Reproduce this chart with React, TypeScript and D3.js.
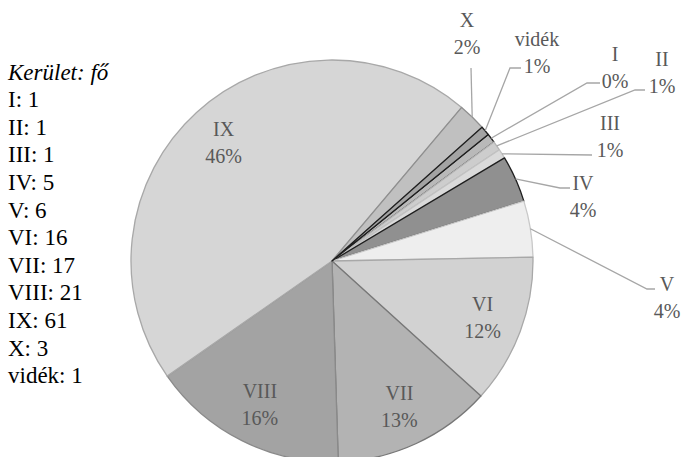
import React from "react";
import * as d3 from "d3";

const categories = ["I", "II", "III", "IV", "V", "VI", "VII", "VIII", "IX", "X", "vidék"];
const values = [1, 1, 1, 5, 6, 16, 17, 21, 61, 3, 1];
const legendTitle = "Kerület: fő";

const fills = ["#b9b9b9", "#cdcdcd", "#dadada", "#909090", "#eeeeee", "#d2d2d2", "#b3b3b3", "#a3a3a3", "#d6d6d6", "#c0c0c0", "#a3a3a3"];
const strokes = ["#1e1e1e", "#b5b5b5", "#c2c2c2", "#1e1e1e", "#c8c8c8", "#a8a8a8", "#777777", "#8a8a8a", "#a8a8a8", "#8f8f8f", "#1e1e1e"];

// outside label layout: text center, elbow point, end of horizontal segment
const outside: Record<string, { tx: number; ty: number; ex: number; ey: number; hx: number }> = {
  X: { tx: 467, ty: 33, ex: 471, ey: 68, hx: 471 },
  "vidék": { tx: 537, ty: 52, ex: 510, ey: 68, hx: 521 },
  I: { tx: 615, ty: 67, ex: 587, ey: 83, hx: 600 },
  II: { tx: 662, ty: 72, ex: 635, ey: 90, hx: 645 },
  III: { tx: 610, ty: 136, ex: 592, ey: 155, hx: 592 },
  IV: { tx: 583, ty: 196, ex: 560, ey: 188, hx: 570 },
  V: { tx: 667, ty: 297, ex: 647, ey: 289, hx: 655 },
};

const W = 681;
const H = 457;
const cx = 332;
const cy = 261;
const R = 201;
const FONT = "'Liberation Serif', 'Times New Roman', serif";

// largest-remainder rounding so percentages sum to 100 (as the spreadsheet does)
function roundedPercents(vals: number[]): number[] {
  const total = d3.sum(vals);
  const raw = vals.map((v) => (v / total) * 100);
  const fl = raw.map((r) => Math.floor(r));
  let rest = 100 - d3.sum(fl);
  const order = raw
    .map((r, i) => ({ i, rem: r - Math.floor(r) }))
    .sort((a, b) => b.rem - a.rem || b.i - a.i);
  const out = fl.slice();
  for (const o of order) {
    if (rest <= 0) break;
    out[o.i] += 1;
    rest -= 1;
  }
  return out;
}

export default function App() {
  const start = (51 * Math.PI) / 180;
  const pie = d3
    .pie<number>()
    .sort(null)
    .value((d) => d)
    .startAngle(start)
    .endAngle(start + 2 * Math.PI);
  const arcs = pie(values);
  const arc = d3.arc<d3.PieArcDatum<number>>().innerRadius(0).outerRadius(R);
  const labelArc = d3.arc<d3.PieArcDatum<number>>().innerRadius(R * 0.8).outerRadius(R * 0.8);
  const pcts = roundedPercents(values);
  const lineGap = 13.5;

  return (
    <svg width={W} height={H} style={{ position: "absolute", left: 0, top: 0 }} xmlns="http://www.w3.org/2000/svg">
      <rect width={W} height={H} fill="#ffffff" />
      <g transform={`translate(${cx},${cy})`}>
        {arcs.map((a, i) => (
          <path key={categories[i]} d={arc(a) || ""} fill={fills[i]} stroke={strokes[i]} strokeWidth={1.3} strokeLinejoin="round" />
        ))}
      </g>
      {/* leader lines */}
      {arcs.map((a, i) => {
        const lay = outside[categories[i]];
        if (!lay) return null;
        const mid = (a.startAngle + a.endAngle) / 2;
        const sx = cx + Math.sin(mid) * R;
        const sy = cy - Math.cos(mid) * R;
        return (
          <polyline
            key={"l" + i}
            points={`${sx},${sy} ${lay.ex},${lay.ey} ${lay.hx},${lay.ey}`}
            fill="none"
            stroke="#a6a6a6"
            strokeWidth={1.3}
          />
        );
      })}
      {/* labels */}
      {arcs.map((a, i) => {
        const lay = outside[categories[i]];
        let x: number, y: number;
        if (lay) {
          x = lay.tx;
          y = lay.ty;
        } else {
          const [px, py] = labelArc.centroid(a);
          x = cx + px;
          y = cy + py;
        }
        return (
          <text key={"t" + i} fontFamily={FONT} fontSize={20} fill="#595959" textAnchor="middle">
            <tspan x={x} y={y - lineGap} dominantBaseline="central">{categories[i]}</tspan>
            <tspan x={x} y={y + lineGap} dominantBaseline="central">{`${pcts[i]}%`}</tspan>
          </text>
        );
      })}
      {/* legend text */}
      <g fontFamily={FONT} fontSize={23} fill="#000000">
        <text x={8} y={72} dominantBaseline="central" fontStyle="italic">{legendTitle}</text>
        {categories.map((c, i) => (
          <text key={"lg" + c} x={8} y={72 + (i + 1) * 27.6} dominantBaseline="central">{`${c}: ${values[i]}`}</text>
        ))}
      </g>
    </svg>
  );
}
